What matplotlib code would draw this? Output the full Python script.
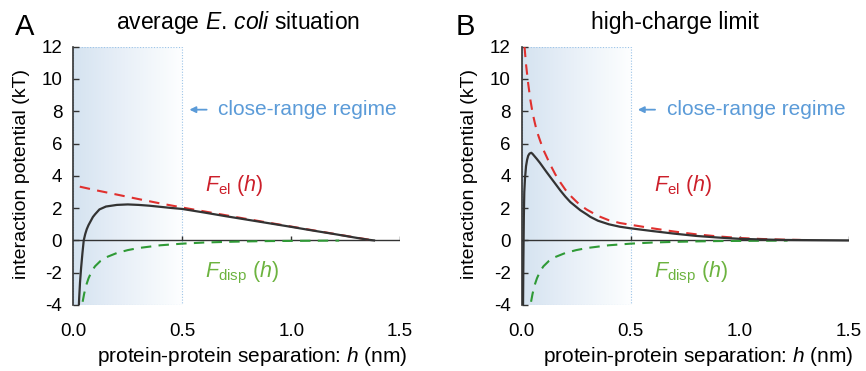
#!/usr/bin/env python3

import numpy as np
import matplotlib as mpl
mpl.use('Agg')
import matplotlib.pyplot as plt
from matplotlib.colors import LinearSegmentedColormap
from matplotlib.patches import Rectangle

# global plot style
plt.rcParams['font.family'] = ['Liberation Sans', 'DejaVu Sans']
plt.rcParams['mathtext.fontset'] = 'custom'
plt.rcParams['mathtext.rm'] = 'Liberation Sans'
plt.rcParams['mathtext.it'] = 'Liberation Sans:italic'
plt.rcParams['axes.unicode_minus'] = False

# ---- data ----
x_ticks = [0.0, 0.5, 1.0, 1.5]
y_ticks = [12, 10, 8, 6, 4, 2, 0, -2, -4]
close_range = 0.5

# panel A: average E. coli situation
h_tot_a = [0.024, 0.027, 0.031, 0.036, 0.042, 0.048, 0.055, 0.062, 0.07, 0.08,
           0.09, 0.1, 0.12, 0.15, 0.2, 0.25, 0.3, 0.35, 0.4, 0.45, 0.5, 0.6,
           0.7, 0.8, 0.9, 1.0, 1.1, 1.2, 1.3, 1.35, 1.38]
f_tot_a = [-4.6, -3.6, -2.6, -1.7, -0.8, 0.0, 0.4, 0.7, 0.95, 1.2,
           1.45, 1.62, 1.92, 2.1, 2.2, 2.23, 2.2, 2.15, 2.08, 2.01, 1.95, 1.73,
           1.5, 1.28, 1.06, 0.84, 0.61, 0.39, 0.16, 0.05, 0.0]
h_el_a = [0.03, 0.1, 0.2, 0.3, 0.4, 0.5, 0.6, 0.7, 0.8, 0.9, 1.0, 1.1, 1.2, 1.3, 1.38]
f_el_a = [3.33, 3.12, 2.84, 2.56, 2.29, 2.04, 1.8, 1.56, 1.32, 1.09, 0.86, 0.63, 0.4, 0.17, 0.0]

# dispersion term (same in both panels)
h_disp = [0.043, 0.05, 0.06, 0.07, 0.085, 0.1, 0.125, 0.15, 0.2, 0.25, 0.3,
          0.4, 0.5, 0.6, 0.7, 0.8, 0.9, 1.0, 1.1, 1.22]
f_disp = [-3.8, -3.3, -2.75, -2.35, -1.9, -1.6, -1.27, -1.05, -0.78, -0.6, -0.47,
          -0.3, -0.2, -0.13, -0.09, -0.06, -0.04, -0.03, -0.02, -0.01]

# panel B: high-charge limit
h_tot_b = [0.006, 0.008, 0.01, 0.012, 0.015, 0.02, 0.025, 0.03, 0.036, 0.044,
           0.05, 0.06, 0.07, 0.084, 0.1, 0.115, 0.131, 0.155, 0.177, 0.2, 0.223,
           0.25, 0.269, 0.3, 0.315, 0.35, 0.4, 0.45, 0.5, 0.6, 0.7, 0.8, 0.9,
           1.0, 1.1, 1.2, 1.3, 1.4, 1.5]
f_tot_b = [-4.5, -1.0, 1.5, 3.0, 3.8, 4.6, 5.0, 5.25, 5.38, 5.43,
           5.36, 5.2, 5.04, 4.8, 4.5, 4.22, 3.93, 3.5, 3.1, 2.72, 2.38,
           2.08, 1.87, 1.6, 1.46, 1.22, 1.0, 0.85, 0.75, 0.58, 0.42, 0.28, 0.18,
           0.1, 0.06, 0.03, 0.02, 0.01, 0.0]
h_el_b = [0.013, 0.02, 0.03, 0.04, 0.05, 0.06, 0.07, 0.084, 0.1, 0.131, 0.154,
          0.177, 0.2, 0.223, 0.25, 0.269, 0.3, 0.35, 0.4, 0.45, 0.5, 0.6, 0.7,
          0.8, 0.9, 1.0, 1.1, 1.2, 1.28]
f_el_b = [12.0, 10.9, 9.7, 8.7, 7.9, 7.3, 6.75, 6.2, 5.6, 4.7, 4.1,
          3.6, 3.15, 2.78, 2.42, 2.18, 1.9, 1.52, 1.25, 1.08, 0.97, 0.75, 0.55,
          0.38, 0.25, 0.15, 0.09, 0.05, 0.03]

panels = [
    dict(letter='A', title=r'average $E.\,coli$ situation', left=0.0846,
         title_x=238, label_x=25, ylab_x=22, xlab_x=252,
         h_tot=h_tot_a, f_tot=f_tot_a, h_el=h_el_a, f_el=f_el_a),
    dict(letter='B', title='high-charge limit', left=0.6024,
         title_x=675, label_x=465, ylab_x=470, xlab_x=698,
         h_tot=h_tot_b, f_tot=f_tot_b, h_el=h_el_b, f_el=f_el_b),
]

W, H = 866, 371
fig = plt.figure(figsize=(W / 100, H / 100), dpi=100)

shade_cmap = LinearSegmentedColormap.from_list(
    'shade', [(0.0, '#d5e3f0'), (0.4, '#e6eef7'), (0.8, '#f5f9fc'), (1.0, '#fdfeff')])
blue_txt = '#5b9bd8'
red = '#e0302e'
green = '#2f9a36'
axis_col = '#333333'

for p in panels:
    ax = fig.add_axes([p['left'], 0.1779, 0.3775, 0.6962])
    ax.set_xlim(0, 1.5)
    ax.set_ylim(-4, 12)

    # close-range regime shading
    grad = np.linspace(0, 1, 256).reshape(1, -1)
    ax.imshow(grad, extent=[0, close_range, -4, 12], aspect='auto',
              cmap=shade_cmap, origin='lower', zorder=0)
    ax.add_patch(Rectangle((0, -4), close_range, 16, fill=False, ls=(0, (1, 1.5)),
                           lw=0.8, ec='#9cc4e8', zorder=1))

    # x axis drawn at zero with upward ticks
    ax.axhline(0, color=axis_col, lw=1.0, zorder=2)
    ax.vlines(x_ticks[1:], 0, 0.28, color=axis_col, lw=1.0, zorder=2)

    ax.plot(p['h_el'], p['f_el'], color=red, lw=1.5, ls=(0, (5, 3.5)), zorder=3)
    ax.plot(h_disp, f_disp, color=green, lw=1.5, ls=(0, (5, 3.5)), zorder=3)
    ax.plot(p['h_tot'], p['f_tot'], color=axis_col, lw=1.6, zorder=4)

    for s in ['top', 'right', 'bottom']:
        ax.spines[s].set_visible(False)
    ax.spines['left'].set_color(axis_col)
    ax.spines['left'].set_linewidth(1.2)

    ax.set_yticks(y_ticks)
    ax.set_xticks(x_ticks)
    ax.set_xticklabels(['{:.1f}'.format(v) for v in x_ticks])
    ax.tick_params(axis='y', direction='in', length=4, width=1.0, color=axis_col,
                   labelsize=13.5, pad=8)
    ax.tick_params(axis='x', length=0, labelsize=13.5, pad=13)

    # annotations
    ax.annotate('', xy=(0.533, 8.1), xytext=(0.612, 8.1),
                arrowprops=dict(arrowstyle='-|>', color=blue_txt, lw=1.3,
                                mutation_scale=9, shrinkA=0, shrinkB=0))
    ax.text(0.665, 8.1, 'close-range regime', color=blue_txt, fontsize=15,
            va='center', ha='left')
    ax.text(0.605, 3.4, r'$F_{\mathrm{el}}\ (h)$', color='#cc1f2a', fontsize=15.5,
            va='center', ha='left')
    ax.text(0.605, -2.0, r'$F_{\mathrm{disp}}\ (h)$', color='#6cb33f', fontsize=15.5,
            va='center', ha='left')

    # labels in figure pixels
    fig.text(p['title_x'] / W, 1 - 23 / H, p['title'], fontsize=16.5,
             ha='center', va='center')
    fig.text(p['label_x'] / W, 1 - 27 / H, p['letter'], fontsize=21,
             ha='center', va='center')
    fig.text(p['ylab_x'] / W, 1 - 174 / H, 'interaction potential (kT)', fontsize=14,
             rotation=90, ha='center', va='center')
    fig.text(p['xlab_x'] / W, 1 - 357 / H, r'protein-protein separation: $h$ (nm)',
             fontsize=15, ha='center', va='center')

fig.savefig('out.png', dpi=100)
